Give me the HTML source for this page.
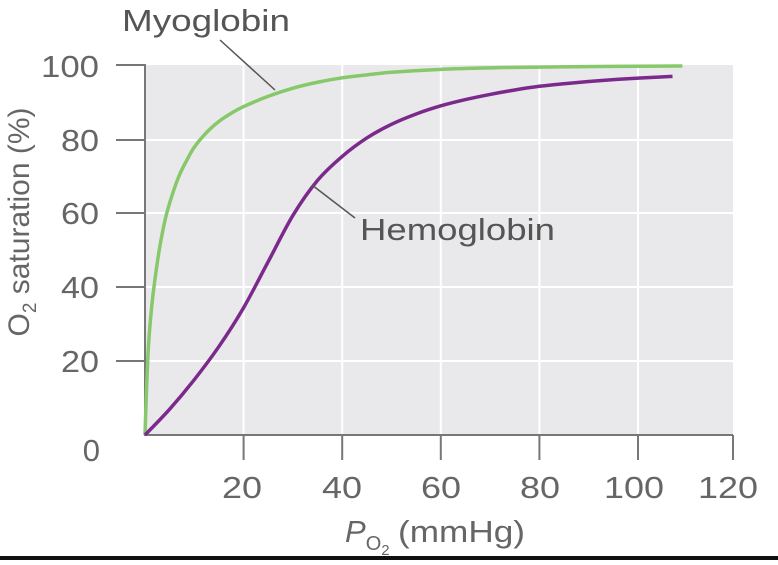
<!DOCTYPE html>
<html><head><meta charset="utf-8"><style>
body{margin:0;background:#fff;width:778px;height:560px;overflow:hidden;font-family:"Liberation Sans",sans-serif}
</style></head><body>
<svg id="s" width="778" height="560" xmlns="http://www.w3.org/2000/svg" font-family="Liberation Sans Narrow, Liberation Sans, sans-serif" fill="#666">
<rect x="145" y="65" width="588" height="370" fill="#e9e9ec"/>
<g stroke="#fff" stroke-width="2">
<line x1="243.6" y1="65" x2="243.6" y2="435"/><line x1="342.2" y1="65" x2="342.2" y2="435"/>
<line x1="440.8" y1="65" x2="440.8" y2="435"/><line x1="539.4" y1="65" x2="539.4" y2="435"/>
<line x1="638" y1="65" x2="638" y2="435"/>
<line x1="145" y1="140" x2="733" y2="140"/><line x1="145" y1="213" x2="733" y2="213"/>
<line x1="145" y1="287" x2="733" y2="287"/><line x1="145" y1="361" x2="733" y2="361"/>
</g>
<g stroke="#777" stroke-width="2" fill="none">
<polyline points="116,65 145,65 145,435 733,435"/>
<line x1="116" y1="140" x2="145" y2="140"/><line x1="116" y1="213" x2="145" y2="213"/>
<line x1="116" y1="287" x2="145" y2="287"/><line x1="116" y1="361" x2="145" y2="361"/>
<line x1="243.6" y1="435" x2="243.6" y2="460"/><line x1="342.2" y1="435" x2="342.2" y2="460"/>
<line x1="440.8" y1="435" x2="440.8" y2="460"/><line x1="539.4" y1="435" x2="539.4" y2="460"/>
<line x1="638" y1="435" x2="638" y2="460"/><line x1="733" y1="435" x2="733" y2="460"/>
</g>
<path id="mb" fill="none" stroke="#86c86a" stroke-width="3.5"/>
<path id="hb" fill="none" stroke="#7b2a8c" stroke-width="3.5"/>
<g stroke="#555" stroke-width="1.5"><line x1="220" y1="40" x2="275" y2="90"/><line x1="312" y1="185" x2="355" y2="218"/></g>
<g font-size="31" text-anchor="end">
<text x="99" y="77" textLength="58" lengthAdjust="spacingAndGlyphs">100</text><text x="99" y="151" textLength="38" lengthAdjust="spacingAndGlyphs">80</text><text x="99" y="224" textLength="38" lengthAdjust="spacingAndGlyphs">60</text>
<text x="99" y="298" textLength="38" lengthAdjust="spacingAndGlyphs">40</text><text x="99" y="372" textLength="38" lengthAdjust="spacingAndGlyphs">20</text><text x="100" y="461">0</text>
</g>
<g font-size="31">
<text x="222" y="498" textLength="40" lengthAdjust="spacingAndGlyphs">20</text><text x="322" y="498" textLength="40" lengthAdjust="spacingAndGlyphs">40</text><text x="421" y="498" textLength="40" lengthAdjust="spacingAndGlyphs">60</text>
<text x="520" y="498" textLength="40" lengthAdjust="spacingAndGlyphs">80</text><text x="604" y="498" textLength="60" lengthAdjust="spacingAndGlyphs">100</text><text x="698" y="498" textLength="60" lengthAdjust="spacingAndGlyphs">120</text>
</g>
<text x="122" y="31" font-size="31" fill="#555" textLength="168" lengthAdjust="spacingAndGlyphs">Myoglobin</text>
<text x="360" y="240" font-size="31" fill="#555" textLength="195" lengthAdjust="spacingAndGlyphs">Hemoglobin</text>
<text x="345" y="542" font-size="31"><tspan font-style="italic">P</tspan><tspan font-size="20" dy="8">O</tspan><tspan font-size="15" dy="5">2</tspan><tspan dy="-13" x="398"  textLength="127" lengthAdjust="spacingAndGlyphs">(mmHg)</tspan></text>
<text transform="translate(29,222) rotate(-90)" font-size="30" text-anchor="middle">O<tspan font-size="19" dy="7">2</tspan><tspan dy="-7"> saturation (%)</tspan></text>
<rect x="0" y="556" width="778" height="4" fill="#111"/>
</svg>
<script>
function X(x){return 145+x*4.93}function Y(y){return 435-y*3.69}
function S(pts){let d='M'+X(pts[0][0])+','+Y(pts[0][1]);
for(let i=0;i<pts.length-1;i++){let p0=pts[Math.max(0,i-1)],p1=pts[i],p2=pts[i+1],p3=pts[Math.min(pts.length-1,i+2)];
let c1=[p1[0]+(p2[0]-p0[0])/6,p1[1]+(p2[1]-p0[1])/6],c2=[p2[0]-(p3[0]-p1[0])/6,p2[1]-(p3[1]-p1[1])/6];
d+=' C'+X(c1[0])+','+Y(c1[1])+' '+X(c2[0])+','+Y(c2[1])+' '+X(p2[0])+','+Y(p2[1]);}return d;}
document.getElementById('mb').setAttribute('d',S([[0,0],[0.3,12],[0.7,24],[1.3,34],[2,42],[3,51],[4.2,59],[5.5,65],[7,70.5],[8.5,74.5],[10,78],[12.5,82],[15,85],[17.5,87.2],[20,89],[25,91.8],[30,94],[35,95.6],[40,96.8],[45,97.6],[50,98.3],[60,99.1],[70,99.5],[80,99.7],[95,99.9],[109,100]]));
document.getElementById('hb').setAttribute('d',S([[0,0],[5,7],[10,15],[15,24],[20,34.5],[25,47],[30,59.5],[35,69],[40,75.5],[45,80.5],[50,84.2],[55,87],[60,89.2],[65,90.9],[70,92.3],[75,93.5],[80,94.5],[85,95.2],[90,95.8],[95,96.3],[100,96.7],[107,97.2]]));
</script>
</body></html>
